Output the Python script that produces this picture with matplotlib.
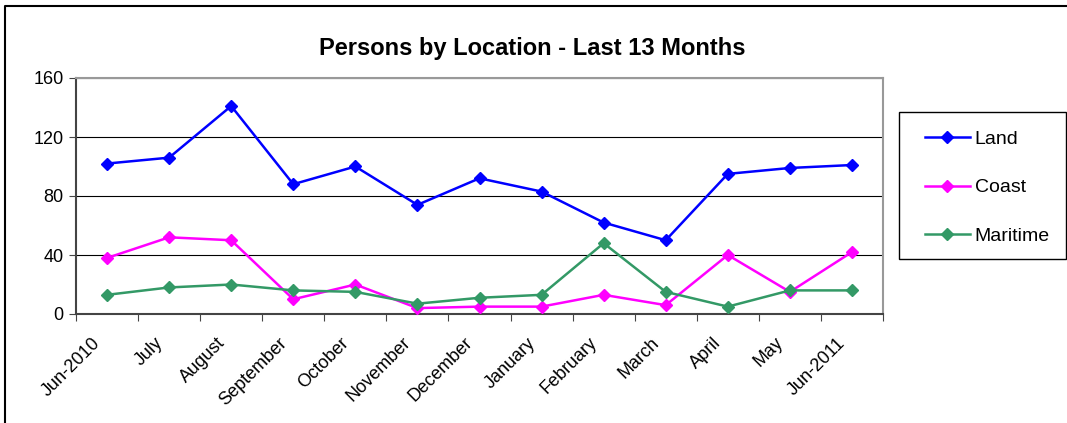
import matplotlib
matplotlib.use("Agg")
import matplotlib.pyplot as plt
from matplotlib.lines import Line2D
from matplotlib.patches import Rectangle
import matplotlib.transforms as mtransforms
import numpy as np

months = ["Jun-2010", "July", "August", "September", "October", "November",
          "December", "January", "February", "March", "April", "May", "Jun-2011"]
land = [102, 106, 141, 88, 100, 74, 92, 83, 62, 50, 95, 99, 101]
coast = [38, 52, 50, 10, 20, 4, 5, 5, 13, 6, 40, 15, 42]
maritime = [13, 18, 20, 16, 15, 7, 11, 13, 48, 15, 5, 16, 16]
series = [("Land", land, "#0000FF"), ("Coast", coast, "#FF00FF"), ("Maritime", maritime, "#339966")]
yticks = [0, 40, 80, 120, 160]

plt.rcParams['font.family'] = ['Liberation Sans', 'DejaVu Sans']

W, H = 1067, 423
fig = plt.figure(figsize=(W / 100, H / 100), dpi=100)
ax = fig.add_axes([76 / W, 1 - 314 / H, (883 - 76) / W, (314 - 78) / H])

x = np.arange(len(months))
for name, vals, col in series:
    ax.plot(x, vals, color=col, lw=1.8, marker='D', ms=6.5, label=name, zorder=3)

ax.set_xlim(-0.5, len(months) - 0.5)
ax.set_ylim(0, 160)
ax.set_yticks(yticks)
ax.set_yticklabels([str(v) for v in yticks], fontsize=13)
ax.yaxis.grid(True, color='black', lw=0.8)
ax.set_axisbelow(True)

ax.set_xticks(np.arange(-0.5, len(months)), minor=False)
ax.set_xticklabels([])
ax.set_xticks(x, minor=True)
ax.set_xticklabels(months, minor=True, rotation=45, ha='right', va='center',
                   rotation_mode='anchor', fontsize=13)
ax.tick_params(axis='x', which='minor', length=0, pad=14)
ax.tick_params(axis='x', which='major', length=5, direction='out', color='#444444')
ax.tick_params(axis='y', length=5, direction='out', color='#444444', pad=4)
off = mtransforms.ScaledTranslation(-0.09, -0.07, fig.dpi_scale_trans)
for lbl in ax.get_xticklabels(minor=True):
    lbl.set_transform(lbl.get_transform() + off)

for s in ['top', 'right']:
    ax.spines[s].set_color('#999999')
    ax.spines[s].set_linewidth(1.5)
for s in ['left', 'bottom']:
    ax.spines[s].set_color('#444444')
    ax.spines[s].set_linewidth(1.5)

fig.text(532 / W, 1 - 48 / H, "Persons by Location - Last 13 Months",
         ha='center', va='center', fontsize=17, fontweight='bold')

# legend box
fig.add_artist(Rectangle((899 / W, 1 - 259 / H), (1066 - 899) / W, (259 - 112) / H,
                         transform=fig.transFigure, fill=False, edgecolor='black', lw=1.0))
leg = fig.legend(loc='upper left', bbox_to_anchor=(925 / W, 1 - 130 / H),
                 frameon=False, fontsize=14, borderpad=0, borderaxespad=0,
                 handlelength=2.3, labelspacing=1.6, handletextpad=0.25)

# outer border (left and top)
fig.add_artist(Line2D([5 / W, 5 / W, 1.0], [0, 1 - 6 / H, 1 - 6 / H],
                      transform=fig.transFigure, color='black', lw=1.5))

fig.savefig("out.png", dpi=100)
